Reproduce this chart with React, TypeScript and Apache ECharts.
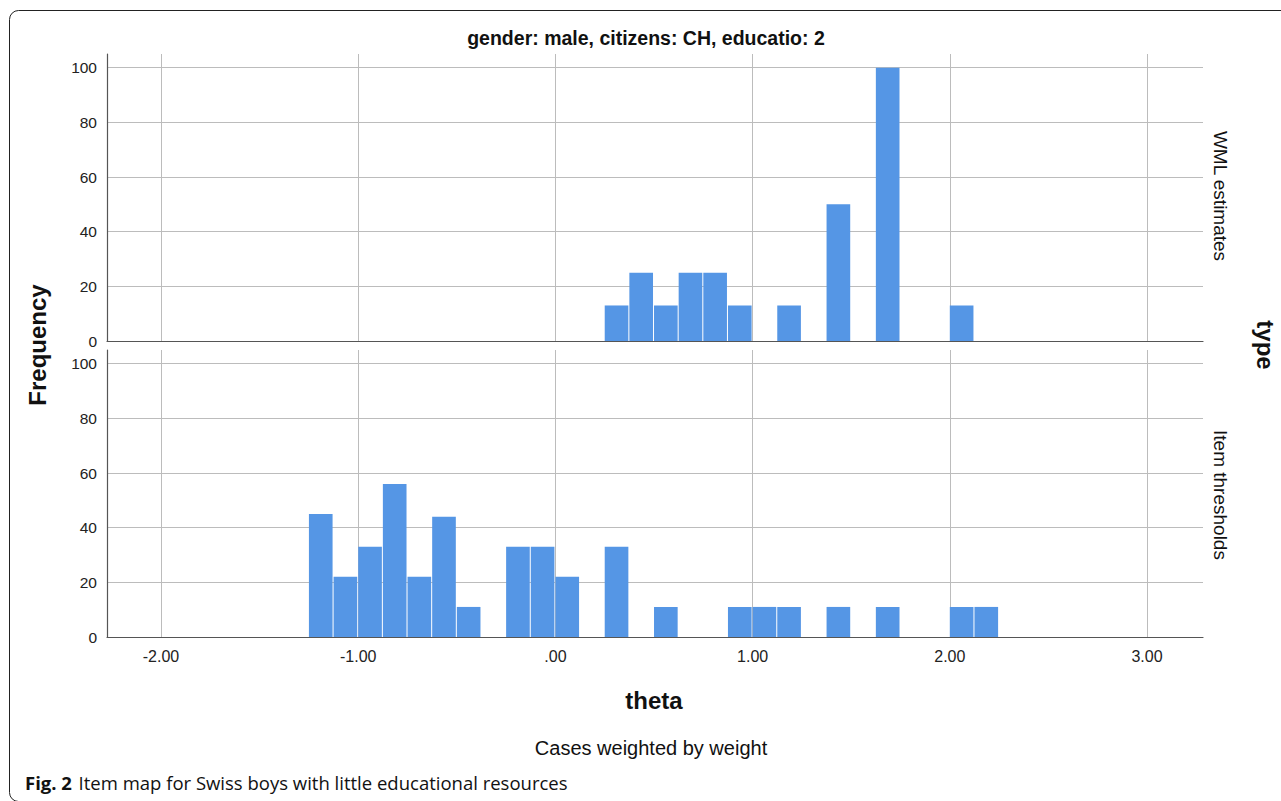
import React, { useEffect, useRef } from 'react';
import * as echarts from 'echarts';

// ---- data ----
const BIN_WIDTH = 0.125;
const wmlBinStarts = [0.25, 0.375, 0.5, 0.625, 0.75, 0.875, 1.125, 1.375, 1.625, 2.0];
const wmlCounts = [13, 25, 13, 25, 25, 13, 13, 50, 100, 13];
const itemBinStarts = [-1.25, -1.125, -1.0, -0.875, -0.75, -0.625, -0.5, -0.25, -0.125, 0, 0.25, 0.5, 0.875, 1.0, 1.125, 1.375, 1.625, 2.0, 2.125];
const itemCounts = [45, 22, 33, 56, 22, 44, 11, 33, 33, 22, 33, 11, 11, 11, 11, 11, 11, 11, 11];
const panelLabels = ['WML estimates', 'Item thresholds'];
const titleText = 'gender: male, citizens: CH, educatio: 2';
const xTitle = 'theta';
const yTitle = 'Frequency';
const panelTitle = 'type';
const footnote = 'Cases weighted by weight';
const captionBold = 'Fig. 2';
const captionText = 'Item map for Swiss boys with little educational resources';
const X_MIN = -2.274;
const X_MAX = 3.284;
const Y_MAX = 105;

const FONT = '"Liberation Sans", Arial, Helvetica, sans-serif';
const BAR = '#5596e5';
const GRIDC = '#bcbcbc';
const AXISC = '#555';

function toData(starts: number[], counts: number[]) {
  return starts.map((s, i) => [s, s + BIN_WIDTH, counts[i]]);
}

function fmtX(v: number) {
  if (Math.abs(v - Math.round(v)) > 1e-6) return '';
  const r = Math.round(v);
  return r === 0 ? '.00' : r.toFixed(2);
}

export default function App() {
  const ref = useRef<HTMLDivElement>(null);
  useEffect(() => {
    if (!ref.current) return;
    const chart = echarts.init(ref.current, null, { renderer: 'svg' });
    const grids = [
      { left: 107, top: 54, width: 1096, height: 287 },
      { left: 107, top: 350, width: 1096, height: 287 },
    ];
    const xAxes = [0, 1].map((i) => ({
      type: 'value',
      gridIndex: i,
      min: X_MIN,
      max: X_MAX,
      axisLine: { show: true, onZero: false, lineStyle: { color: AXISC, width: 1.2 } },
      axisTick: { show: false },
      axisLabel: {
        show: i === 1,
        formatter: fmtX,
        color: '#222',
        fontSize: 16,
        fontFamily: FONT,
        margin: 11,
        showMinLabel: false,
        showMaxLabel: false,
      },
      splitLine: { show: true, showMinLine: false, showMaxLine: false, lineStyle: { color: GRIDC, width: 1 } },
    }));
    const yAxes = [0, 1].map((i) => ({
      type: 'value',
      gridIndex: i,
      min: 0,
      max: Y_MAX,
      interval: 20,
      axisLine: { show: true, onZero: false, lineStyle: { color: AXISC, width: 1.2 } },
      axisTick: { show: false },
      axisLabel: {
        formatter: (v: number) => (v % 20 === 0 ? String(v) : ''),
        color: '#222',
        fontSize: 15.5,
        fontFamily: FONT,
        margin: 10,
        showMaxLabel: false,
      },
      splitLine: { show: true, showMaxLine: false, lineStyle: { color: GRIDC, width: 1 } },
    }));
    const renderItem = (params: any, api: any) => {
      const s = api.value(0);
      const e = api.value(1);
      const c = api.value(2);
      const p0 = api.coord([s, c]);
      const p1 = api.coord([e, 0]);
      return {
        type: 'rect',
        shape: { x: p0[0], y: p0[1], width: p1[0] - p0[0] - 1, height: p1[1] - p0[1] },
        style: { fill: BAR },
      };
    };
    const series = [
      { data: toData(wmlBinStarts, wmlCounts), idx: 0 },
      { data: toData(itemBinStarts, itemCounts), idx: 1 },
    ].map((d) => ({
      type: 'custom',
      xAxisIndex: d.idx,
      yAxisIndex: d.idx,
      encode: { x: [0, 1], y: 2 },
      renderItem,
      data: d.data,
      z: 3,
    }));

    const rotText = (text: string, x: number, y: number, rot: number, size: number, weight: string) => ({
      type: 'text',
      x,
      y,
      rotation: rot,
      style: { text, fontSize: size, fontWeight: weight, fontFamily: FONT, fill: '#111', align: 'center', verticalAlign: 'middle' },
    });

    chart.setOption({
      animation: false,
      backgroundColor: '#fff',
      grid: grids,
      xAxis: xAxes,
      yAxis: yAxes,
      series,
      graphic: [
        {
          type: 'rect',
          shape: { x: 9.5, y: 10.5, width: 1400, height: 791, r: 9 },
          style: { fill: 'none', stroke: '#222', lineWidth: 1 },
          silent: true,
        },
        rotText(titleText, 646, 38, 0, 19.5, 'bold'),
        rotText(yTitle, 37, 345, Math.PI / 2, 24, 'bold'),
        rotText(panelTitle, 1265, 345, -Math.PI / 2, 24, 'bold'),
        rotText(panelLabels[0], 1220, 196, -Math.PI / 2, 19, 'normal'),
        rotText(panelLabels[1], 1220, 495, -Math.PI / 2, 19, 'normal'),
        rotText(xTitle, 654, 700, 0, 24, 'bold'),
        rotText(footnote, 651, 748, 0, 20, 'normal'),
        {
          type: 'text',
          x: 25,
          y: 782,
          style: {
            text: `{b|${captionBold}}  {n|${captionText}}`,
            verticalAlign: 'middle',
            rich: {
              b: { fontFamily: '"Open Sans", "Noto Sans", sans-serif', fontWeight: 'bold', fontSize: 18.5, fill: '#111' },
              n: { fontFamily: '"Open Sans", "Noto Sans", sans-serif', fontSize: 18.5, fill: '#111' },
            },
          },
        },
      ],
    });
    return () => chart.dispose();
  }, []);
  return <div ref={ref} style={{ position: 'fixed', left: 0, top: 0, width: 1281, height: 801 }} />;
}
